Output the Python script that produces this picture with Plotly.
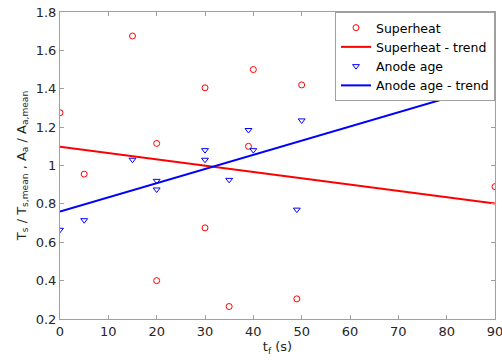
import plotly.graph_objects as go

sh_x = [0, 5, 15, 20, 20, 30, 30, 35, 39, 40, 49, 50, 90]
sh_y = [1.275, 0.955, 1.675, 1.115, 0.40, 1.405, 0.675, 0.265, 1.10, 1.50, 0.305, 1.42, 0.89]
aa_x = [0, 5, 15, 20, 20, 30, 30, 35, 39, 40, 49, 50, 90]
aa_y = [0.665, 0.715, 1.03, 0.92, 0.875, 1.08, 1.03, 0.925, 1.185, 1.08, 0.77, 1.235, 1.44]
trend_x = [0, 90]
sh_trend = [1.098, 0.802]
aa_trend = [0.76, 1.425]

FONT = "DejaVu Sans"
AXC = "#a0a0a0"
fig = go.Figure()
fig.add_trace(go.Scatter(x=sh_x, y=sh_y, mode="markers", name="Superheat",
                         marker=dict(symbol="circle-open", size=6, color="#ff0000", line=dict(width=1))))
fig.add_trace(go.Scatter(x=trend_x, y=sh_trend, mode="lines", name="Superheat - trend",
                         line=dict(color="#ff0000", width=2)))
fig.add_trace(go.Scatter(x=aa_x, y=aa_y, mode="markers", name="Anode age",
                         marker=dict(symbol="triangle-down-open", size=6, color="#0000ff", line=dict(width=1))))
fig.add_trace(go.Scatter(x=trend_x, y=aa_trend, mode="lines", name="Anode age - trend",
                         line=dict(color="#0000ff", width=2)))

axis_common = dict(showgrid=False, zeroline=False, showline=True, linecolor=AXC, linewidth=1,
                   mirror="ticks", ticks="inside", ticklen=4, tickcolor=AXC, automargin=False,
                   ticklabeloverflow="allow",
                   tickfont=dict(family=FONT, size=13, color="#262626"))
fig.update_xaxes(range=[0, 90], dtick=10, title=dict(text="t<sub>f</sub> (s)", standoff=4,
                 font=dict(family=FONT, size=13, color="#262626")), **axis_common)
fig.update_yaxes(range=[0.2, 1.8], dtick=0.2, tickformat="~g",
                 title=dict(text="T<sub>s</sub> / T<sub>s,mean</sub> , A<sub>a</sub> / A<sub>a,mean</sub>",
                            standoff=6, font=dict(family=FONT, size=13, color="#262626")), **axis_common)
fig.update_layout(width=502, height=362, margin=dict(l=60, r=7, t=12, b=43, autoexpand=False),
                  plot_bgcolor="white", paper_bgcolor="white",
                  font=dict(family=FONT, size=13, color="#000000"),
                  legend=dict(x=1, y=1, xanchor="right", yanchor="top", bgcolor="white",
                              bordercolor=AXC, borderwidth=1, tracegroupgap=0,
                              itemwidth=30, font=dict(family=FONT, size=12.5, color="#000000")),
                  showlegend=True)
fig.write_html("out.html", config={"displayModeBar": False},
               post_script="document.body.style.margin='0';document.body.style.overflow='hidden';")
